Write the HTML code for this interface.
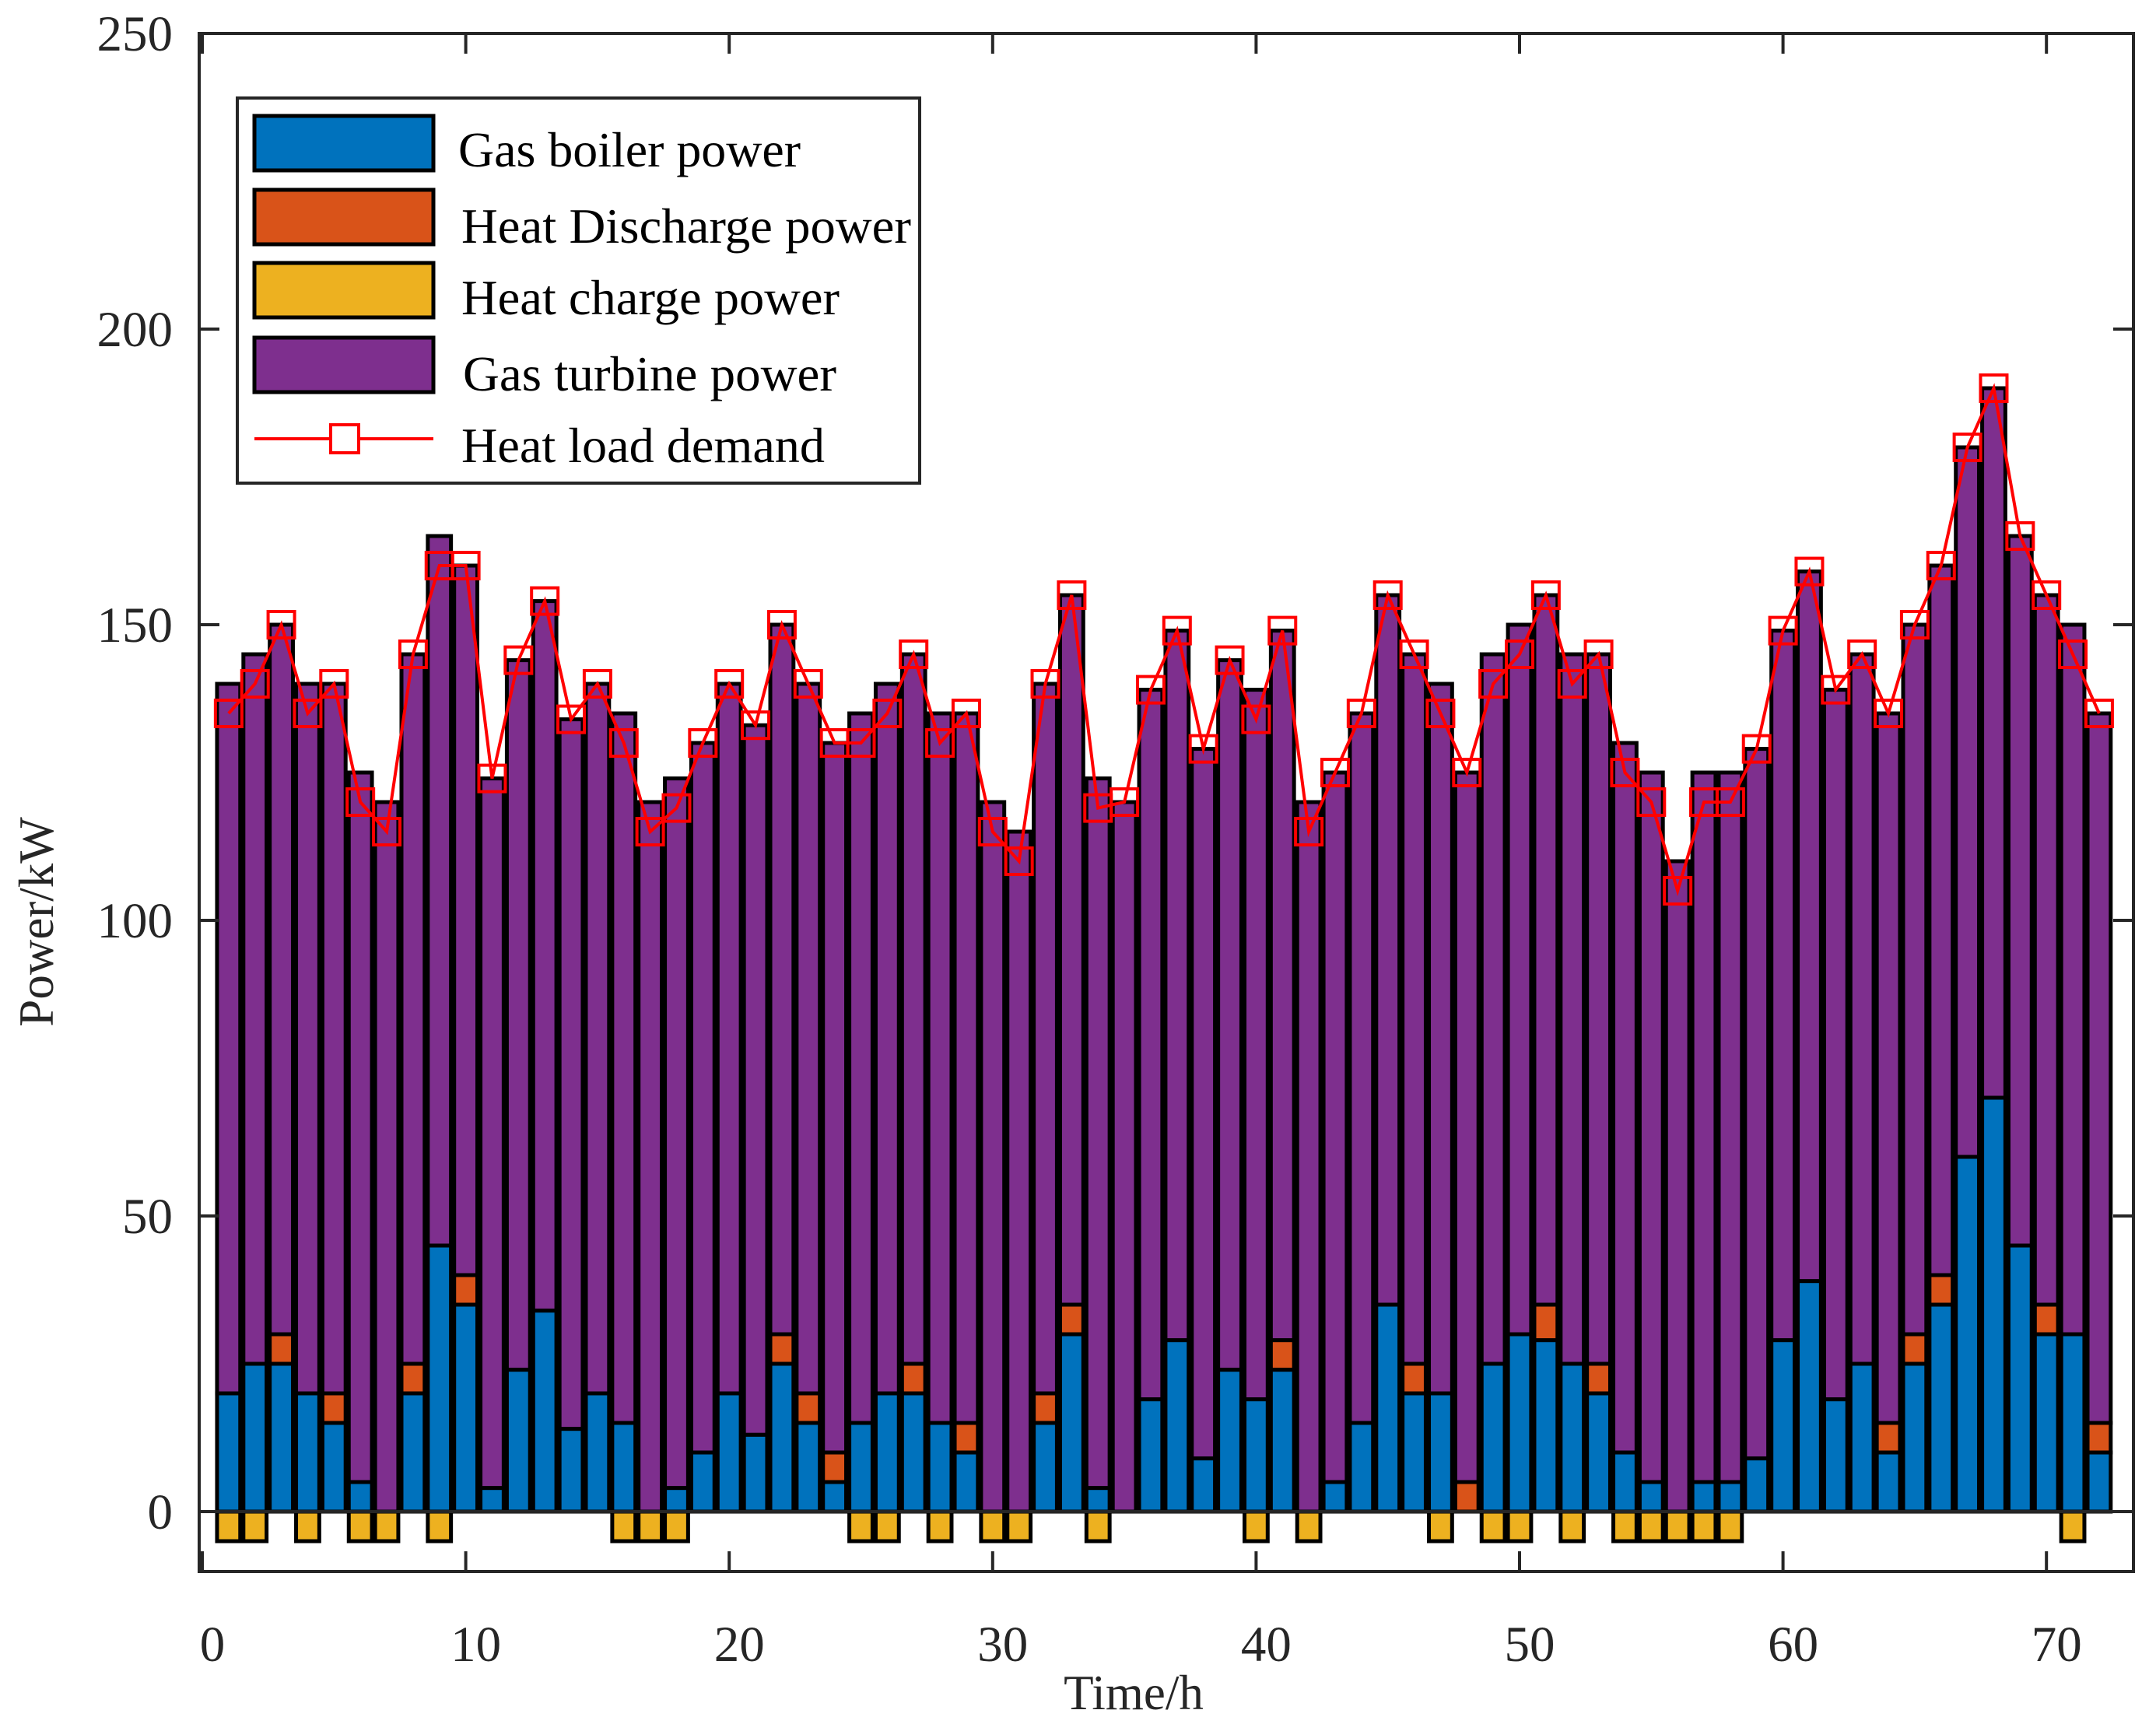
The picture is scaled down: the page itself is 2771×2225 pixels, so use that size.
<!DOCTYPE html>
<html><head><meta charset="utf-8"><style>
html,body{margin:0;padding:0;background:#fff;}
svg{display:block;font-family:"Liberation Serif",serif;}
</style></head><body>
<svg id="chart" width="2771" height="2225" viewBox="0 0 2771 2225" xmlns="http://www.w3.org/2000/svg">
<rect x="0" y="0" width="2771" height="2225" fill="#fff"/>
<g id="bars"></g>
<g id="line"></g>
<g id="axes"></g>
<g id="legend"></g>
</svg>
<script>
const hours = Array.from({length:72},(_,i)=>i+1);
const boiler = [20,25,25,20,15,5,0,20,45,35,4,24,34,14,20,15,0,4,10,20,13,25,15,5,15,20,20,15,10,0,0,15,30,4,0,19,29,9,24,19,24,0,5,15,35,20,20,0,25,30,29,25,20,10,5,0,5,5,9,29,39,19,25,10,25,35,60,70,45,30,30,10];
const discharge = [0,0,5,0,5,0,0,5,0,5,0,0,0,0,0,0,0,0,0,0,0,5,5,5,0,0,5,0,5,0,0,5,5,0,0,0,0,0,0,0,5,0,0,0,0,5,0,5,0,0,6,0,5,0,0,0,0,0,0,0,0,0,0,5,5,5,0,0,0,5,0,5];
const charge = [-5,-5,0,-5,0,-5,-5,0,-5,0,0,0,0,0,0,-5,-5,-5,0,0,0,0,0,0,-5,-5,0,-5,0,-5,-5,0,0,-5,0,0,0,0,0,-5,0,-5,0,0,0,0,-5,0,-5,-5,0,-5,0,-5,-5,-5,-5,-5,0,0,0,0,0,0,0,0,0,0,0,0,-5,0];
const totals = [140,145,150,140,140,125,120,145,165,160,124,144,154,134,140,135,120,124,130,140,133,150,140,130,135,140,145,135,135,120,115,140,155,124,120,139,149,129,144,139,149,120,125,135,155,145,140,125,145,150,155,145,145,130,125,110,125,125,129,149,159,139,145,135,150,160,180,190,165,155,150,135];
const turbine = totals.map((t,i)=>t-boiler[i]-discharge[i]);
const demand = [135,140,150,135,140,120,115,145,160,160,124,144,154,134,140,130,115,119,130,140,133,150,140,130,130,135,145,130,135,115,110,140,155,119,120,139,149,129,144,134,149,115,125,135,155,145,135,125,140,145,155,140,145,125,120,105,120,120,129,149,159,139,145,135,150,160,180,190,165,155,145,135];
const yTicks = [0,50,100,150,200,250];
const xTicks = [0,10,20,30,40,50,60,70];
const legendLabels = ["Gas boiler power","Heat Discharge power","Heat charge power","Gas turbine power","Heat load demand"];
const colors = ["#0072BD","#D95319","#EDB120","#7E2F8E"];

const NS="http://www.w3.org/2000/svg";
const L=256,R=2742,T=43,B=2020;
const X=t=>260+t*33.86;
const Y=v=>1943-v*7.6;
function mk(tag,attrs,parent){const e=document.createElementNS(NS,tag);for(const k in attrs)e.setAttribute(k,attrs[k]);parent.appendChild(e);return e;}
const gb=document.getElementById('bars'),gl=document.getElementById('line'),ga=document.getElementById('axes'),gleg=document.getElementById('legend');
const bw=0.88*33.86;
function seg(i,v0,v1,color,name){
  if(v1===v0)return;
  const y0=Y(Math.max(v0,v1)),y1=Y(Math.min(v0,v1));
  const r=mk('rect',{x:X(hours[i])-bw/2,y:y0,width:bw,height:y1-y0,fill:color,stroke:'#000','stroke-width':5},gb);
  
  
}
hours.forEach((h,i)=>{
  seg(i,0,boiler[i],colors[0],'gas-boiler');
  seg(i,boiler[i],boiler[i]+discharge[i],colors[1],'heat-discharge');
  seg(i,boiler[i]+discharge[i],boiler[i]+discharge[i]+turbine[i],colors[3],'gas-turbine');
  seg(i,charge[i],0,colors[2],'heat-charge');
});
const zl=mk('line',{x1:L,x2:R,y1:Y(0),y2:Y(0),stroke:'#262626','stroke-width':4},ga);


const pl=mk('polyline',{points:hours.map((h,i)=>X(h)+','+Y(demand[i])).join(' '),fill:'none',stroke:'#FF0000','stroke-width':4},gl);


hours.forEach((h,i)=>{
  const m=mk('rect',{x:X(h)-17,y:Y(demand[i])-17,width:34,height:34,fill:'none',stroke:'#FF0000','stroke-width':4},gl);
  
  
});
const box=mk('rect',{x:L,y:T,width:R-L,height:B-T,fill:'none',stroke:'#262626','stroke-width':4},ga);


yTicks.forEach(v=>{
  mk('line',{x1:L,x2:L+26,y1:Y(v),y2:Y(v),stroke:'#262626','stroke-width':4},ga);
  mk('line',{x1:R,x2:R-26,y1:Y(v),y2:Y(v),stroke:'#262626','stroke-width':4},ga);
  const t=mk('text',{x:222,y:Y(v)+22,'text-anchor':'end','font-size':65,fill:'#262626'},ga);
  t.textContent=v;
  
  
});
xTicks.forEach(v=>{
  mk('line',{x1:X(v),x2:X(v),y1:B,y2:B-26,stroke:'#262626','stroke-width':4},ga);
  mk('line',{x1:X(v),x2:X(v),y1:T,y2:T+26,stroke:'#262626','stroke-width':4},ga);
  const t=mk('text',{x:X(v)+13,y:2135,'text-anchor':'middle','font-size':65,fill:'#262626'},ga);
  t.textContent=v;
  
  
});
const xt=mk('text',{x:1457,y:2197,'text-anchor':'middle','font-size':63,fill:'#262626'},ga);
xt.textContent='Time/h';


const yt=mk('text',{x:0,y:0,'text-anchor':'middle','font-size':63,fill:'#262626',transform:'translate(68,1185) rotate(-90)'},ga);
yt.textContent='Power/kW';


const lb=mk('rect',{x:305,y:126,width:877,height:495,fill:'#fff',stroke:'#262626','stroke-width':4},gleg);


const rowTop=[149,244,338,434];
const baselines=[214,312,404,502,594];
const lx=[589,593,593,595,593];
const lw=[440,578,486,480,467];
for(let k=0;k<4;k++){
  const s=mk('rect',{x:327,y:rowTop[k],width:230,height:70,fill:colors[k],stroke:'#000','stroke-width':5},gleg);
  
  
}
mk('line',{x1:327,x2:557,y1:564,y2:564,stroke:'#FF0000','stroke-width':4},gleg);
mk('rect',{x:425,y:546,width:36,height:36,fill:'#fff',stroke:'#FF0000','stroke-width':4},gleg);
legendLabels.forEach((s,k)=>{
  const t=mk('text',{x:lx[k],y:baselines[k],'font-size':64,fill:'#000',textLength:lw[k],lengthAdjust:'spacingAndGlyphs'},gleg);
  t.textContent=s;
  
  
});
</script>
</body></html>
